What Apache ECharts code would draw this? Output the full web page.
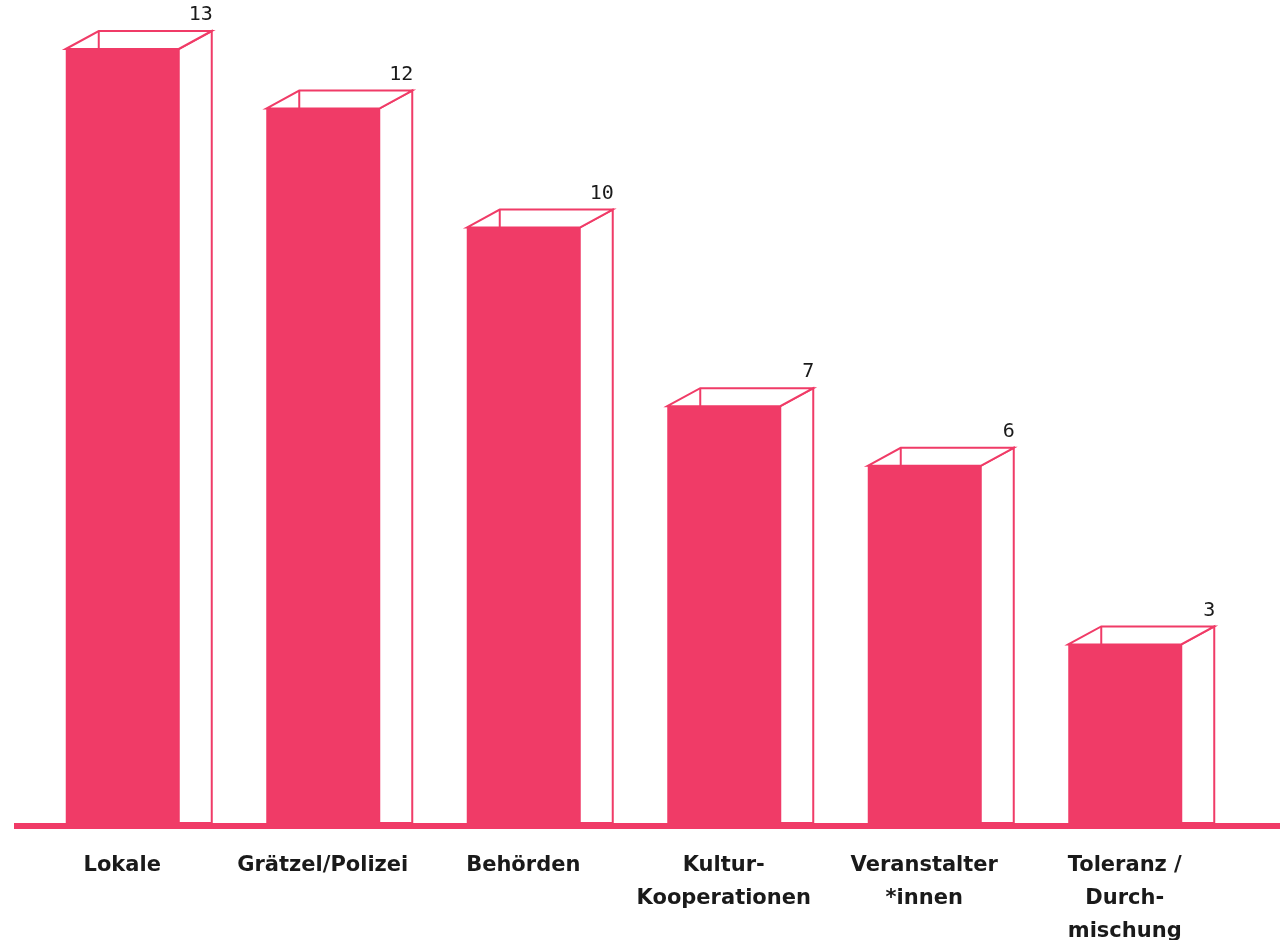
<!DOCTYPE html>
<html>
<head>
<meta charset="utf-8">
<script src="https://cdn.jsdelivr.net/npm/echarts@6/dist/echarts.min.js"></script>
<style>
html,body{margin:0;padding:0;background:#fff;}
#chart{width:1285px;height:940px;}
</style>
</head>
<body>
<div id="chart"></div>
<script>
const categories = ['Lokale', 'Grätzel/Polizei', 'Behörden', 'Kultur-\nKooperationen', 'Veranstalter\n*innen', 'Toleranz /\nDurch-\nmischung'];
const values = [13, 12, 10, 7, 6, 3];

const PINK = '#F03B67';
const chart = echarts.init(document.getElementById('chart'));

function renderItem(params, api) {
  const top = api.coord([api.value(0), api.value(1)]);
  const base = api.coord([api.value(0), 0]);
  const w = 113, dx = 33, dy = 18;
  const L = top[0] - w / 2, R = L + w, T = top[1], B = base[1];
  const stroke = { stroke: PINK, lineWidth: 2, fill: '#fff' };
  const children = [
    { type: 'polygon', shape: { points: [[R, T], [R + dx, T - dy], [R + dx, B], [R, B]] }, style: stroke },
    { type: 'polygon', shape: { points: [[L, T], [L + dx, T - dy], [R + dx, T - dy], [R, T]] }, style: stroke },
    { type: 'line', shape: { x1: L + dx, y1: T - dy, x2: L + dx, y2: T }, style: { stroke: PINK, lineWidth: 2 } },
    { type: 'rect', shape: { x: L, y: T, width: w, height: B - T }, style: { fill: PINK } },
    { type: 'text', style: { x: R + dx + 1, y: T - dy - 6, text: String(api.value(1)), align: 'right', verticalAlign: 'bottom', fill: '#1a1a1a', font: '20px "DejaVu Sans Mono"' } }
  ];
  if (params.dataIndex === 0) {
    const cs = params.coordSys;
    children.push({ type: 'rect', shape: { x: cs.x - 8, y: B, width: cs.width + 63, height: 6 }, style: { fill: PINK } });
  }
  return { type: 'group', children: children };
}

chart.setOption({
  animation: false,
  grid: { left: 22, right: 60, top: 49, bottom: 117, containLabel: false, outerBoundsMode: 'none' },
  xAxis: {
    type: 'category',
    data: categories,
    axisLine: { show: false },
    axisTick: { show: false },
    axisLabel: {
      interval: 0,
      margin: 26,
      color: '#1a1a1a',
      fontFamily: 'DejaVu Sans',
      fontWeight: 'bold',
      fontSize: 21,
      lineHeight: 33,
      align: 'center'
    }
  },
  yAxis: { type: 'value', min: 0, max: 13, show: false, splitLine: { show: false } },
  series: [{
    type: 'custom',
    renderItem: renderItem,
    encode: { x: 0, y: 1 },
    data: values.map((v, i) => [i, v])
  }]
});
</script>
</body>
</html>
